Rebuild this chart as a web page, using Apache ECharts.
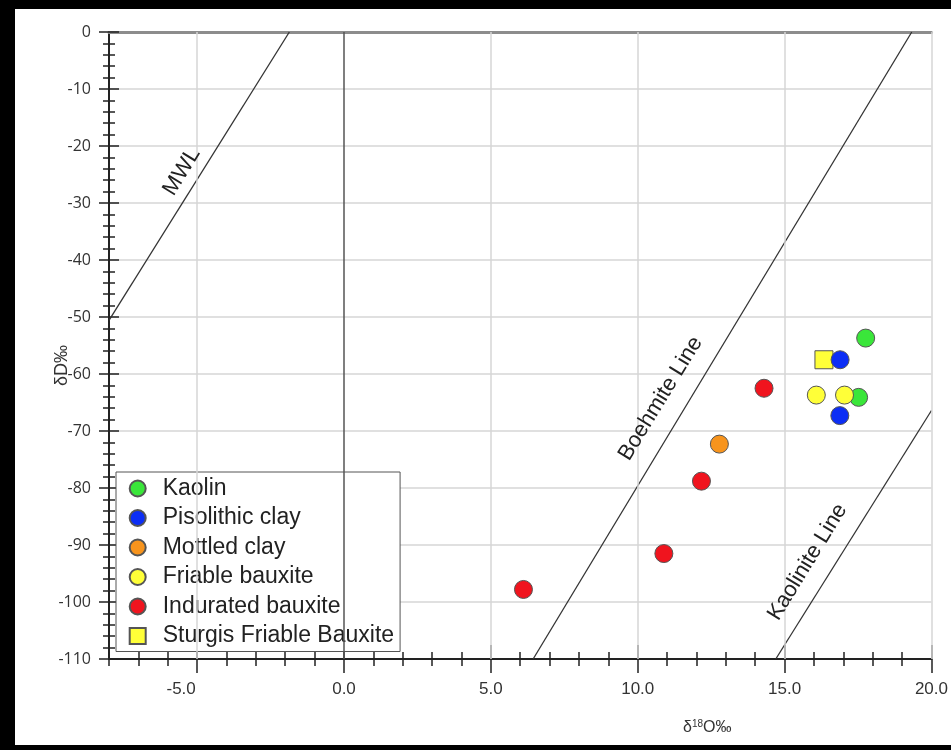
<!DOCTYPE html>
<html>
<head>
<meta charset="utf-8">
<script src="https://cdn.jsdelivr.net/npm/echarts@6/dist/echarts.min.js"></script>
<style>
html,body{margin:0;padding:0;background:#000;width:951px;height:750px;overflow:hidden;}
#chart{position:absolute;left:15px;top:9px;width:936px;height:736px;background:#fff;}
</style>
</head>
<body>
<div id="chart"></div>
<script>
// ---- data ----
const seriesNames = ['Kaolin','Pisolithic clay','Mottled clay','Friable bauxite','Indurated bauxite','Sturgis Friable Bauxite'];
const kaolinX = [17.76, 17.52];
const kaolinY = [-53.7, -64.1];
const pisolithicX = [16.89, 16.88];
const pisolithicY = [-57.5, -67.3];
const mottledX = [12.78];
const mottledY = [-72.3];
const friableX = [16.08, 17.04];
const friableY = [-63.7, -63.7];
const induratedX = [6.11, 10.89, 12.17, 14.30];
const induratedY = [-97.8, -91.5, -78.8, -62.5];
const sturgisX = [16.34];
const sturgisY = [-57.5];
// reference lines
const mwlX = [-8, -1.86];
const mwlY = [-50.6, 0];
const boehmiteX = [6.44, 19.33];
const boehmiteY = [-110, 0];
const kaoliniteX = [14.70, 20];
const kaoliniteY = [-110, -66.4];
// line label anchors
const lineLabels = ['MWL', 'Boehmite Line', 'Kaolinite Line'];
const lineLabelX = [-5.52, 10.78, 15.78];
const lineLabelY = [-24.5, -64.3, -93.0];
// axes
const xMin = -8, xMax = 20, yMin = -110, yMax = 0;
const xMajorTicks = [-5, 0, 5, 10, 15, 20];
const xGridLines = [-5, 5, 10, 15, 20];
const xZeroLine = [0];

const zip = (xs, ys) => xs.map((x, i) => [x, ys[i]]);
const colors = ['#3ae63a', '#0c2ef5', '#f7941d', '#ffff38', '#f0141e', '#ffff38'];
const sym = ['circle','circle','circle','circle','circle','rect'];
const datas = [zip(kaolinX,kaolinY), zip(pisolithicX,pisolithicY), zip(mottledX,mottledY),
               zip(friableX,friableY), zip(induratedX,induratedY), zip(sturgisX,sturgisY)];

const txtFont = 'Liberation Sans, Arial, sans-serif';

const scatterSeries = seriesNames.map((n, i) => ({
  name: n, type: 'scatter', data: datas[i], symbol: sym[i], symbolSize: 18,
  z: i === 5 ? 3 : 4,
  itemStyle: { color: colors[i], borderColor: '#555', borderWidth: 1, opacity: 1 }
}));

function refLine(xs, ys, idx) {
  return {
    type: 'line', data: zip(xs, ys), showSymbol: false, silent: true, z: 2,
    lineStyle: { color: '#333', width: 1.3 },
    markPoint: {
      symbol: 'circle', symbolSize: 0, silent: true,
      label: { show: true, formatter: lineLabels[idx], rotate: 58.5, fontSize: 22,
               fontFamily: txtFont, color: '#222', position: 'inside' },
      data: [{ coord: [lineLabelX[idx], lineLabelY[idx]] }]
    }
  };
}

const gridSeries = {
  type: 'line', data: [], silent: true, z: 1,
  markLine: {
    silent: true, symbol: 'none', label: { show: false },
    data: xGridLines.map(v => ({ xAxis: v, lineStyle: { color: '#d6d6d6', width: 1.5, type: 'solid' } }))
      .concat(xZeroLine.map(v => ({ xAxis: v, lineStyle: { color: '#555', width: 1.5, type: 'solid' } })))
  }
};

const baseX = { type: 'value', min: xMin, max: xMax, gridIndex: 0 };
const baseY = { type: 'value', min: yMin, max: yMax, interval: 10, gridIndex: 0 };

const option = {
  animation: false,
  backgroundColor: '#fff',
  grid: { left: 94, right: 19, top: 23, bottom: 86 },
  xAxis: [
    Object.assign({}, baseX, {
      position: 'bottom', interval: 1,
      name: '{a|δ}{s|18}{a|O‰}', nameLocation: 'middle', nameGap: 60, nameMoveOverlap: false,
      nameTextStyle: { padding: [0, 0, 0, 374], rich: {
        a: { fontSize: 16, fontFamily: txtFont, color: '#333' },
        s: { fontSize: 10, fontFamily: txtFont, color: '#333', padding: [0, 0, 7, 0] } } },
      axisLine: { show: true, onZero: false, lineStyle: { color: '#222', width: 2 } },
      axisTick: { show: true, length: 7, lineStyle: { color: '#222', width: 1.5 } },
      axisLabel: { margin: 22, fontSize: 17, color: '#333', fontFamily: txtFont,
        rich: { n: { fontSize: 17, color: '#333', fontFamily: txtFont, padding: [0, 32, 0, 0] } },
        formatter: v => (Math.abs(v % 5) < 1e-9 ? (v < 0 ? '{n|' + v.toFixed(1) + '}' : v.toFixed(1)) : '') },
      splitLine: { show: false }
    }),
    Object.assign({}, baseX, {
      position: 'bottom', interval: 1,
      axisLine: { show: false, onZero: false },
      axisTick: { show: true, inside: true, length: 7, lineStyle: { color: '#222', width: 1.5 } },
      axisLabel: { show: false }, splitLine: { show: false }
    }),
    Object.assign({}, baseX, {
      position: 'bottom',
      axisLine: { show: false, onZero: false },
      axisTick: { show: true, length: 14, customValues: xMajorTicks, lineStyle: { color: '#222', width: 1.5 } },
      axisLabel: { show: false }, splitLine: { show: false }
    }),
    Object.assign({}, baseX, {
      position: 'bottom',
      axisLine: { show: false, onZero: false },
      axisTick: { show: true, inside: true, length: 14, customValues: xMajorTicks, lineStyle: { color: '#222', width: 1.5 } },
      axisLabel: { show: false }, splitLine: { show: false }
    }),
    Object.assign({}, baseX, {
      position: 'top',
      axisLine: { show: true, onZero: false, lineStyle: { color: '#8c8c8c', width: 3 } },
      axisTick: { show: false }, axisLabel: { show: false }, splitLine: { show: false }
    })
  ],
  yAxis: [
    Object.assign({}, baseY, {
      position: 'left',
      name: 'δD‰', nameLocation: 'middle', nameGap: 38, nameRotate: 90, nameMoveOverlap: false,
      nameTextStyle: { fontSize: 18, fontFamily: txtFont, color: '#333', padding: [0, 40, 0, 0] },
      axisLine: { show: true, onZero: false, lineStyle: { color: '#222', width: 2 } },
      axisTick: { show: true, length: 10, lineStyle: { color: '#222', width: 1.5 } },
      minorTick: { show: true, splitNumber: 5, length: 6, lineStyle: { color: '#222', width: 1.5 } },
      axisLabel: { margin: 18, fontSize: 16, color: '#333', fontFamily: 'Open Sans, sans-serif' },
      splitLine: { show: true, lineStyle: { color: '#d6d6d6', width: 1.5 } }
    }),
    Object.assign({}, baseY, {
      position: 'left',
      axisLine: { show: false, onZero: false },
      axisTick: { show: true, inside: true, length: 10, lineStyle: { color: '#222', width: 1.5 } },
      minorTick: { show: true, splitNumber: 5, length: 6, lineStyle: { color: '#222', width: 1.5 } },
      axisLabel: { show: false }, splitLine: { show: false }
    })
  ],
  legend: {
    data: seriesNames, orient: 'vertical', left: 101, top: 463,
    padding: [5, 6, 4, 12.7], itemWidth: 16, itemHeight: 16, itemGap: 6.5,
    backgroundColor: '#fff', borderColor: '#555', borderWidth: 1,
    textStyle: { fontSize: 23, color: '#222', fontFamily: txtFont, padding: [0, 0, 0, 12] },
    selectedMode: false
  },
  series: [gridSeries, refLine(mwlX, mwlY, 0), refLine(boehmiteX, boehmiteY, 1), refLine(kaoliniteX, kaoliniteY, 2)]
    .concat(scatterSeries)
};

const chart = echarts.init(document.getElementById('chart'), null, { renderer: 'canvas' });
chart.setOption(option);
</script>
</body>
</html>
